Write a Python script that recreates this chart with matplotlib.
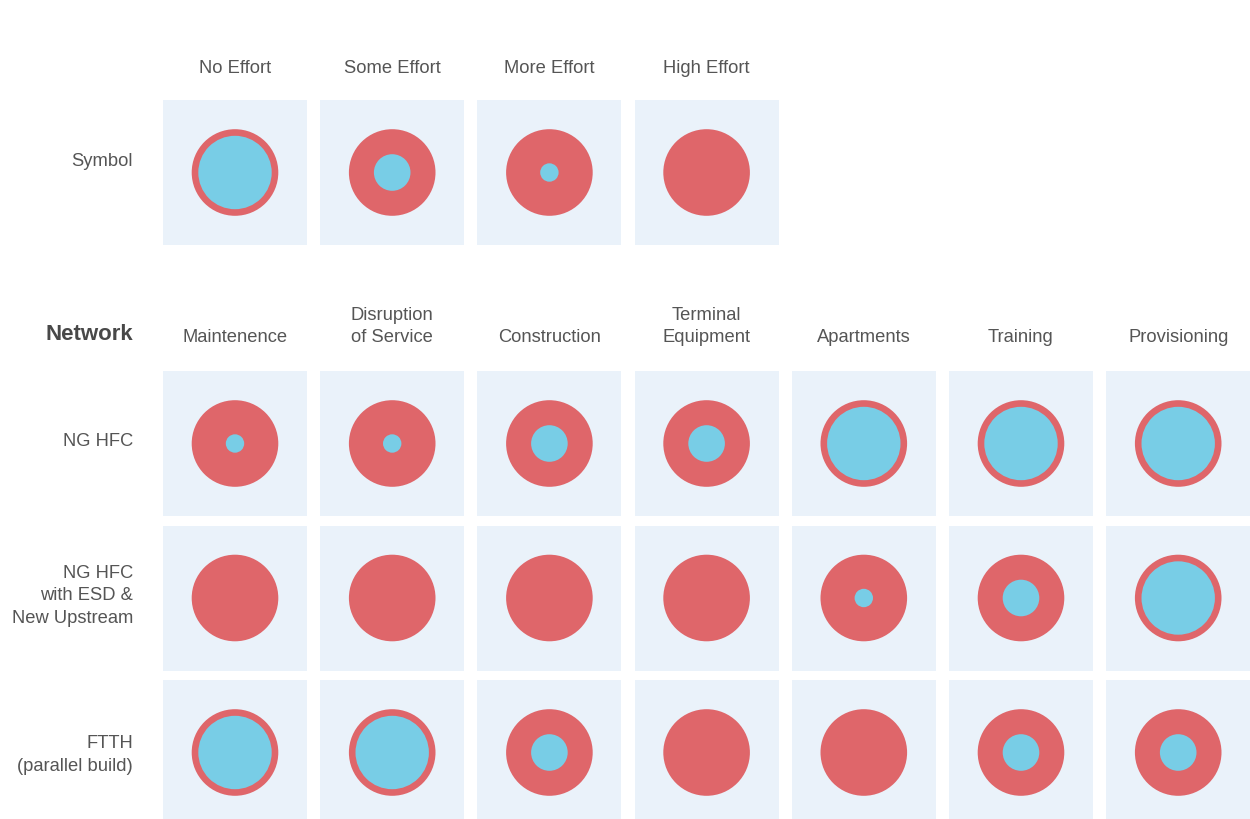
import matplotlib
matplotlib.use("Agg")
import matplotlib.pyplot as plt
from matplotlib.patches import Rectangle, Circle

# ---- data ----
effort_levels = ["No Effort", "Some Effort", "More Effort", "High Effort"]
effort_symbol = [0, 1, 2, 3]          # level index per legend cell

categories = ["Maintenence", "Disruption\nof Service", "Construction",
              "Terminal\nEquipment", "Apartments", "Training", "Provisioning"]
networks = ["NG HFC", "NG HFC\nwith ESD &\nNew Upstream", "FTTH\n(parallel build)"]

ng_hfc = [2, 2, 1, 1, 0, 0, 0]
ng_hfc_esd = [3, 3, 3, 3, 2, 1, 0]
ftth = [0, 0, 1, 3, 3, 1, 1]
network_values = [ng_hfc, ng_hfc_esd, ftth]

# ---- style ----
RED = "#df666a"
BLUE = "#78cde6"
CELL = "#eaf2fa"
TXT = "#555555"
FONT = "Liberation Sans"
FS = 13.2

W, H = 1250, 819
fig = plt.figure(figsize=(W / 100, H / 100), dpi=100)
ax = fig.add_axes([0, 0, 1, 1])
ax.set_xlim(0, W)
ax.set_ylim(H, 0)
ax.axis("off")

col_x0, col_step, cell_w = 163, 157.2, 144
sym_top = 100
net_top, row_step, cell_h = 371, 154.5, 145
outer_r = 43.3
inner_r = [36.7, 18.3, 9.2, 0.0]   # radius of blue core per level


def draw_cell(col, top, level):
    x0 = col_x0 + col * col_step
    ax.add_patch(Rectangle((x0, top), cell_w, cell_h, facecolor=CELL,
                           edgecolor="none", zorder=1))
    cx, cy = x0 + cell_w / 2, top + cell_h / 2
    ax.add_patch(Circle((cx, cy), outer_r, facecolor=RED, edgecolor="none", zorder=2))
    if inner_r[level] > 0:
        ax.add_patch(Circle((cx, cy), inner_r[level], facecolor=BLUE,
                            edgecolor="none", zorder=3))


# legend row
for i, (name, lv) in enumerate(zip(effort_levels, effort_symbol)):
    draw_cell(i, sym_top, lv)
    ax.text(col_x0 + i * col_step + cell_w / 2, 73, name, ha="center", va="baseline",
            fontsize=FS, color=TXT, family=FONT)
ax.text(133, 162, "Symbol", ha="right", va="center", fontsize=FS,
        color=TXT, family=FONT)

# network header
ax.text(133, 334, "Network", ha="right", va="center", fontsize=16,
        color="#484848", family=FONT, fontweight="bold")
for i, name in enumerate(categories):
    ax.text(col_x0 + i * col_step + cell_w / 2, 342, name, ha="center",
            va="baseline", fontsize=FS, color=TXT, family=FONT,
            linespacing=1.4, multialignment="center")

# network rows
label_y = [442, 596, 755]
for j, (name, vals) in enumerate(zip(networks, network_values)):
    top = net_top + j * row_step
    for i, lv in enumerate(vals):
        draw_cell(i, top, lv)
    ax.text(133, label_y[j], name, ha="right", va="center", fontsize=FS,
            color=TXT, family=FONT, linespacing=1.4, multialignment="right")

fig.savefig("out.png", dpi=100, facecolor="white")
